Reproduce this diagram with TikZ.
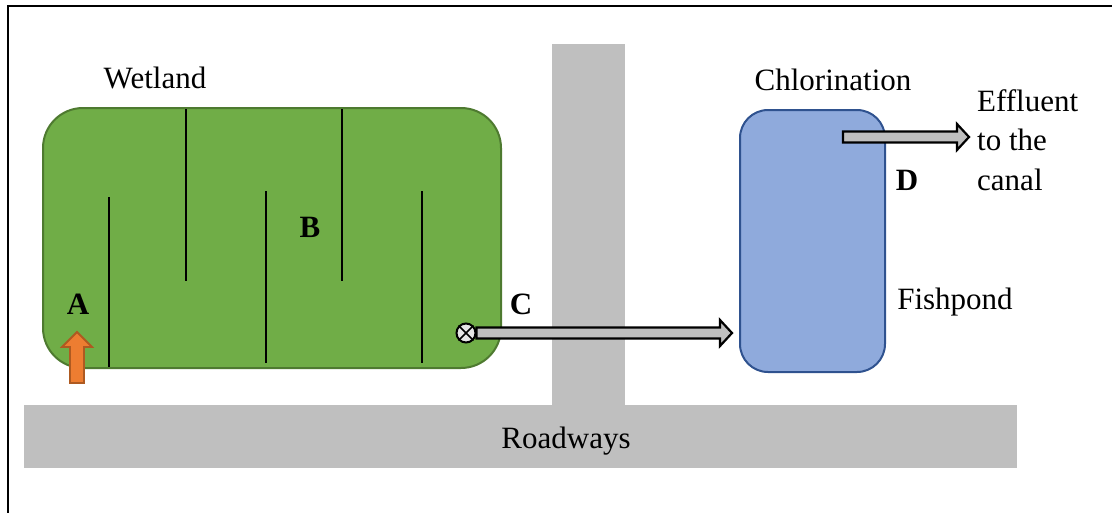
\documentclass[tikz,border=0pt]{standalone}
\usepackage{fontspec}
\setmainfont{Liberation Serif}
\usetikzlibrary{calc}
\definecolor{wetfill}{HTML}{70AD47}
\definecolor{wetline}{HTML}{4E7A30}
\definecolor{pondfill}{HTML}{8FAADC}
\definecolor{pondline}{HTML}{2F528F}
\definecolor{orfill}{HTML}{ED7D31}
\definecolor{orline}{HTML}{AE5A21}
\definecolor{roadgrey}{HTML}{BFBFBF}
\newcommand\fatarrow[2]{%
  \draw[garrow] let \p1=(#1), \p2=(#2) in
    (\x1,\y1+5.5pt) -- (\x2-12pt,\y1+5.5pt) -- (\x2-12pt,\y1+13pt) -- (\x2,\y1)
    -- (\x2-12pt,\y1-13pt) -- (\x2-12pt,\y1-5.5pt) -- (\x1,\y1-5.5pt) -- cycle;}
\begin{document}
\begin{tikzpicture}[x=1pt,y=-1pt,
  lbl/.style={font=\fontsize{31}{39}\selectfont, inner sep=0pt},
  blbl/.style={font=\fontsize{31}{39}\selectfont\bfseries, inner sep=0pt},
  road/.style={fill=roadgrey, draw=none},
  garrow/.style={draw=black, line width=2.2pt, fill=roadgrey, line join=miter},
  baffle/.style={draw=black, line width=1.3pt},
]
\useasboundingbox (0,0) rectangle (1112,512);
% frame
\draw[line width=2.2pt] (8.3,520) -- (8.3,5.7) -- (1120,5.7);
% roads
\fill[road] (552,44) rectangle (625,406);
\node[road, minimum width=993pt, minimum height=63pt, inner sep=0pt] (roadh) at (520.5,436.5) {};
\node[lbl] (roadlbl) at (566,441) {Roadways};
% wetland
\node[draw=wetline, fill=wetfill, line width=2pt, rounded corners=40pt,
      minimum width=458pt, minimum height=260pt, inner sep=0pt] (wet) at (272,238) {};
\draw[baffle] (109,197) -- (109,367);
\draw[baffle] (186,109) -- (186,281);
\draw[baffle] (266,191) -- (266,363);
\draw[baffle] (342,109) -- (342,281);
\draw[baffle] (422,191) -- (422,363);
\node[lbl] (wetlbl) at (155,78) {Wetland};
\node[blbl] (A) at (78,304) {A};
\node[blbl] (B) at (310,227) {B};
\node[blbl] (C) at (521,304) {C};
% inlet arrow
\draw[fill=orfill, draw=orline, line width=1.8pt, line join=miter]
  (70,383) -- (70,347) -- (62,347) -- (77,332) -- (92,347) -- (84,347) -- (84,383) -- cycle;
% fishpond
\node[draw=pondline, fill=pondfill, line width=2pt, rounded corners=28pt,
      minimum width=145pt, minimum height=262pt, inner sep=0pt] (fish) at (812.5,241) {};
\node[lbl] (chl) at (833,80) {Chlorination};
\node[lbl] (fishlbl) at (955,302) {Fishpond};
\node[blbl] (D) at (907,180) {D};
\node[lbl, anchor=west, align=left, font=\fontsize{31}{39.5}\selectfont] (eff) at (977,140) {Effluent\\to the\\canal};
% valve
\node[circle, draw=black, fill=white!90!black, line width=2pt, minimum size=19pt, inner sep=0pt] (valve) at (466,333) {};
\draw[line width=1.6pt] (valve.north west) -- (valve.south east);
\draw[line width=1.6pt] (valve.north east) -- (valve.south west);
% arrows
\coordinate (cend) at ($(fish.west |- valve)+(-7,0)$);
\fatarrow{valve.east}{cend}
\coordinate (dstart) at (843,137);
\coordinate (dend) at (969,137);
\fatarrow{dstart}{dend}
\end{tikzpicture}
\end{document}
